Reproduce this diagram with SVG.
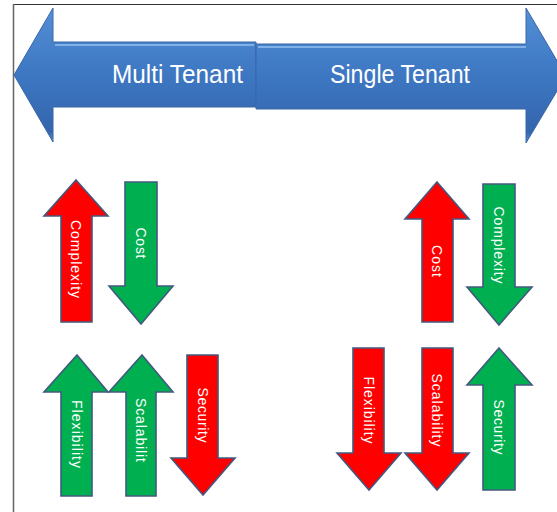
<svg xmlns="http://www.w3.org/2000/svg" width="557" height="512" viewBox="0 0 557 512">
<defs>
<linearGradient id="blue" x1="0" y1="0" x2="0" y2="1">
<stop offset="0" stop-color="#5d98da"/>
<stop offset="0.08" stop-color="#4f8bd3"/>
<stop offset="0.5" stop-color="#3d77c2"/>
<stop offset="0.92" stop-color="#3465ad"/>
<stop offset="1" stop-color="#5a8fd0"/>
</linearGradient>
<style>
.big{fill:url(#blue);stroke:#3a66a6;stroke-width:1}
.hl{fill:none;stroke:#8fbcec;stroke-width:2;opacity:0.8}
.title{font-family:"Liberation Sans","Open Sans",sans-serif;font-size:26px;fill:#ffffff}
.red{fill:#ff0000;stroke:#41597f;stroke-width:1.6}
.green{fill:#00b050;stroke:#41597f;stroke-width:1.6}
.lbl{font-family:"Liberation Sans","Open Sans",sans-serif;font-size:14px;fill:#ffffff;text-anchor:middle;dominant-baseline:central}
</style>
</defs>
<rect x="0" y="0" width="557" height="512" fill="#ffffff"/>
<g id="frame">
<line x1="13" y1="4.5" x2="557" y2="4.5" stroke="#333333" stroke-width="1"/>
<line x1="13.5" y1="4" x2="13.5" y2="512" stroke="#666666" stroke-width="1.5"/>
</g>
<g id="multi-tenant">
<polygon class="big" points="14,75 53,8 53,42 256,42 256,107 53,107 53,142"/>
<polyline class="hl" points="55,45 254,45"/>
<text class="title" x="112" y="83" textLength="131" lengthAdjust="spacingAndGlyphs">Multi Tenant</text>
</g>
<g id="single-tenant">
<polygon class="big" points="256,44 526,44 526,8 566,76 526,143 526,109 256,109"/>
<polyline class="hl" points="258,47 526,47"/>
<text class="title" x="330" y="83" textLength="140" lengthAdjust="spacingAndGlyphs">Single Tenant</text>
</g>
<g id="mt-complexity">
<polygon class="red" points="76,180 108,216 92,216 92,322 61,322 61,216 44,216"/>
<text class="lbl" transform="translate(76,259) rotate(90)" textLength="78" lengthAdjust="spacing">Complexity</text>
</g>
<g id="mt-cost">
<polygon class="green" points="125,182 157,182 157,286 173,286 141,324 109,286 125,286"/>
<text class="lbl" transform="translate(141,243) rotate(90)" textLength="31" lengthAdjust="spacing">Cost</text>
</g>
<g id="st-cost">
<polygon class="red" points="437,182 469,219 453,219 453,322 422,322 422,219 405,219"/>
<text class="lbl" transform="translate(437,261) rotate(90)" textLength="32" lengthAdjust="spacing">Cost</text>
</g>
<g id="st-complexity">
<polygon class="green" points="483,184 515,184 515,287 532,287 499,325 467,287 483,287"/>
<text class="lbl" transform="translate(499,245) rotate(90)" textLength="77" lengthAdjust="spacing">Complexity</text>
</g>
<g id="mt-flexibility">
<polygon class="green" points="77,355 108,392 92,392 92,496 61,496 61,392 44,392"/>
<text class="lbl" transform="translate(77,434) rotate(90)" textLength="68" lengthAdjust="spacing">Flexibility</text>
</g>
<g id="mt-scalability">
<polygon class="green" points="142,355 173,392 156,392 156,496 126,496 126,392 109,392"/>
<text class="lbl" transform="translate(141,430) rotate(90)" textLength="64" lengthAdjust="spacing">Scalabilit</text>
</g>
<g id="mt-security">
<polygon class="red" points="187,355 218,355 218,458 235,458 203,495 171,458 187,458"/>
<text class="lbl" transform="translate(203,415) rotate(90)" textLength="55" lengthAdjust="spacing">Security</text>
</g>
<g id="st-flexibility">
<polygon class="red" points="353,348 384,348 384,453 401,453 369,490 337,453 353,453"/>
<text class="lbl" transform="translate(369,410) rotate(90)" textLength="67" lengthAdjust="spacing">Flexibility</text>
</g>
<g id="st-scalability">
<polygon class="red" points="422,348 453,348 453,453 469,453 437,490 405,453 422,453"/>
<text class="lbl" transform="translate(437,410) rotate(90)" textLength="73" lengthAdjust="spacing">Scalability</text>
</g>
<g id="st-security">
<polygon class="green" points="499,348 532,385 515,385 515,490 483,490 483,385 467,385"/>
<text class="lbl" transform="translate(499,427) rotate(90)" textLength="55" lengthAdjust="spacing">Security</text>
</g>
<g id="connectors"/>
</svg>
